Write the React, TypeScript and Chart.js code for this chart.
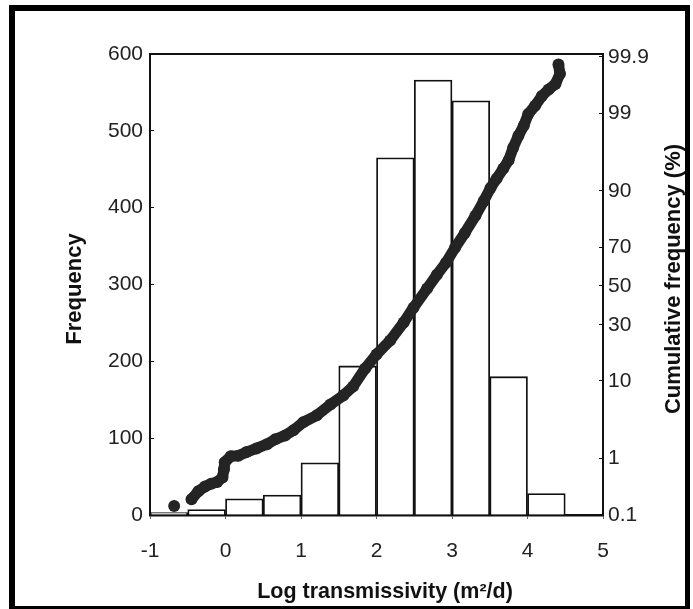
import React, { useEffect, useRef } from 'react';
import { Chart, registerables } from 'chart.js';

Chart.register(...registerables);

// Histogram bins (log transmissivity, m²/d)
const binStarts = [-1, -0.5, 0, 0.5, 1, 1.5, 2, 2.5, 3, 3.5, 4];
const binWidth = 0.5;
const frequencies = [3, 7, 21, 26, 68, 194, 465, 566, 539, 180, 28];

// Cumulative frequency curve (x = log T, cumulative %)
const cumX = [
  -0.68, -0.45, -0.36, -0.27, -0.19, -0.11, -0.04, -0.02, -0.01, 0.07,
  0.17, 0.28, 0.41, 0.55, 0.66, 0.79, 0.9, 1.03, 1.21, 1.39,
  1.56, 1.69, 1.85, 2.0, 2.18, 2.36, 2.49, 2.67, 2.8, 2.92,
  3.04, 3.17, 3.31, 3.42, 3.51, 3.59, 3.68, 3.75, 3.81, 3.88,
  3.95, 4.01, 4.1, 4.19, 4.28, 4.37, 4.43, 4.41,
];
const cumPct = [
  0.15, 0.2, 0.28, 0.34, 0.38, 0.41, 0.49, 0.67, 0.87, 1.08,
  1.1, 1.25, 1.42, 1.64, 1.93, 2.19, 2.58, 3.3, 4.05, 5.49,
  6.99, 8.75, 13.3, 17.8, 23.1, 31.1, 38.5, 48.6, 56.0, 62.3,
  69.7, 76.3, 82.8, 87.4, 90.7, 92.6, 94.35, 95.5, 96.9, 97.87,
  98.47, 98.98, 99.25, 99.48, 99.6, 99.68, 99.79, 99.86,
];

// Axis ticks
const xTicks = [-1, 0, 1, 2, 3, 4, 5];
const freqTicks = [0, 100, 200, 300, 400, 500, 600];
const cumTickLabels = [0.1, 1, 10, 30, 50, 70, 90, 99, 99.9];

const xTitle = 'Log transmissivity (m\u00B2/d)';
const yTitle = 'Frequency';
const y2Title = 'Cumulative frequency (%)';

// Inverse of the standard normal CDF (probability axis)
function probit(p: number): number {
  const a = [-3.969683028665376e1, 2.209460984245205e2, -2.759285104469687e2, 1.38357751867269e2, -3.066479806614716e1, 2.506628277459239];
  const b = [-5.447609879822406e1, 1.615858368580409e2, -1.556989798598866e2, 6.680131188771972e1, -1.328068155288572e1];
  const c = [-7.784894002430293e-3, -3.223964580411365e-1, -2.400758277161838, -2.549732539343734, 4.374664141464968, 2.938163982698783];
  const d = [7.784695709041462e-3, 3.224671290700398e-1, 2.445134137142996, 3.754408661907416];
  const pl = 0.02425;
  if (p < pl) {
    const q = Math.sqrt(-2 * Math.log(p));
    return (((((c[0] * q + c[1]) * q + c[2]) * q + c[3]) * q + c[4]) * q + c[5]) / ((((d[0] * q + d[1]) * q + d[2]) * q + d[3]) * q + 1);
  }
  if (p <= 1 - pl) {
    const q = p - 0.5;
    const r = q * q;
    return ((((((a[0] * r + a[1]) * r + a[2]) * r + a[3]) * r + a[4]) * r + a[5]) * q) / (((((b[0] * r + b[1]) * r + b[2]) * r + b[3]) * r + b[4]) * r + 1);
  }
  const q = Math.sqrt(-2 * Math.log(1 - p));
  return -(((((c[0] * q + c[1]) * q + c[2]) * q + c[3]) * q + c[4]) * q + c[5]) / ((((d[0] * q + d[1]) * q + d[2]) * q + d[3]) * q + 1);
}

const TICK_FONT = { family: '"Liberation Sans", Arial, sans-serif', size: 21 };
const CURVE = '#242424';

const framePlugin = {
  id: 'frameAndTitles',
  afterDraw(chart: any) {
    const { ctx, chartArea } = chart;
    ctx.save();
    // top border of plot box
    ctx.strokeStyle = '#111';
    ctx.lineWidth = 2;
    ctx.beginPath();
    ctx.moveTo(chartArea.left, chartArea.top);
    ctx.lineTo(chartArea.right, chartArea.top);
    ctx.stroke();

    ctx.fillStyle = '#111';
    ctx.textAlign = 'center';
    ctx.textBaseline = 'alphabetic';
    ctx.font = 'bold 21.5px "Liberation Sans", Arial, sans-serif';
    ctx.fillText(xTitle, 385, 598);

    ctx.font = 'bold 22px "Liberation Sans", Arial, sans-serif';
    ctx.save();
    ctx.translate(81, 289);
    ctx.rotate(-Math.PI / 2);
    ctx.fillText(yTitle, 0, 0);
    ctx.restore();

    ctx.save();
    ctx.translate(680, 279);
    ctx.rotate(-Math.PI / 2);
    ctx.fillText(y2Title, 0, 0);
    ctx.restore();
    ctx.restore();
  },
};

export default function App() {
  const ref = useRef<HTMLCanvasElement | null>(null);

  useEffect(() => {
    if (!ref.current) return;
    const barData = binStarts.map((s, i) => ({ x: s + binWidth / 2, y: frequencies[i] }));
    const curveData = cumX.map((x, i) => ({ x, y: probit(cumPct[i] / 100) }));

    const chart = new Chart(ref.current, {
      data: {
        datasets: [
          {
            type: 'scatter',
            data: curveData,
            xAxisID: 'x',
            yAxisID: 'y2',
            showLine: true,
            borderColor: CURVE,
            borderWidth: 11,
            borderCapStyle: 'round',
            borderJoinStyle: 'round',
            pointRadius: 6,
            pointBackgroundColor: CURVE,
            pointBorderWidth: 0,
            segment: {
              borderColor: (c: any) => (c.p0DataIndex === 0 ? 'rgba(0,0,0,0)' : CURVE),
            },
            order: 0,
            clip: false,
          } as any,
          {
            type: 'bar',
            data: barData,
            xAxisID: 'x',
            yAxisID: 'y',
            backgroundColor: '#ffffff',
            borderColor: '#111',
            borderWidth: 1.8,
            borderSkipped: 'start',
            barPercentage: 1,
            categoryPercentage: 1,
            order: 1,
          } as any,
        ],
      },
      options: {
        responsive: false,
        animation: false,
        events: [],
        layout: { padding: { top: 54, left: 0, right: 0, bottom: 0 } },
        plugins: { legend: { display: false }, tooltip: { enabled: false } },
        scales: {
          x: {
            type: 'linear',
            position: 'bottom',
            min: xTicks[0],
            max: xTicks[xTicks.length - 1],
            offset: false,
            afterFit: (s: any) => { s.height = 94; },
            afterBuildTicks: (s: any) => { s.ticks = xTicks.map((v) => ({ value: v })); },
            ticks: { padding: 20, color: '#222', font: TICK_FONT, callback: (v: any) => String(v), autoSkip: false, maxRotation: 0 },
            grid: { drawOnChartArea: false, tickLength: 4, color: '#666', offset: false },
            border: { color: '#111', width: 2.5 },
          },
          y: {
            type: 'linear',
            position: 'left',
            min: freqTicks[0],
            max: freqTicks[freqTicks.length - 1],
            afterFit: (s: any) => { s.width = 150; },
            afterBuildTicks: (s: any) => { s.ticks = freqTicks.map((v) => ({ value: v })); },
            ticks: { padding: 11, color: '#222', font: TICK_FONT, callback: (v: any) => String(v) },
            grid: { drawOnChartArea: false, tickLength: -4, color: '#111' },
            border: { color: '#111', width: 2 },
          },
          y2: {
            type: 'linear',
            position: 'right',
            min: -3.09,
            max: 3.13,
            afterFit: (s: any) => { s.width = 90; },
            afterBuildTicks: (s: any) => { s.ticks = cumTickLabels.map((p) => ({ value: probit(p / 100) })); },
            ticks: { padding: 9, color: '#222', font: TICK_FONT, callback: (_v: any, i: number) => String(cumTickLabels[i]) },
            grid: { drawOnChartArea: false, tickLength: -4, color: '#111' },
            border: { color: '#111', width: 2 },
          },
        },
      } as any,
      plugins: [framePlugin],
    });
    return () => chart.destroy();
  }, []);

  return (
    <div style={{ position: 'fixed', left: 0, top: 0, width: 693, height: 609, background: '#fff' }}>
      <canvas ref={ref} width={693} height={609} style={{ display: 'block', width: 693, height: 609 }} />
      <div
        style={{
          position: 'absolute',
          left: 9,
          top: 5,
          width: 681,
          height: 604,
          boxSizing: 'border-box',
          borderStyle: 'solid',
          borderColor: '#000',
          borderWidth: '6px 5px 3px 6px',
          pointerEvents: 'none',
        }}
      />
    </div>
  );
}
